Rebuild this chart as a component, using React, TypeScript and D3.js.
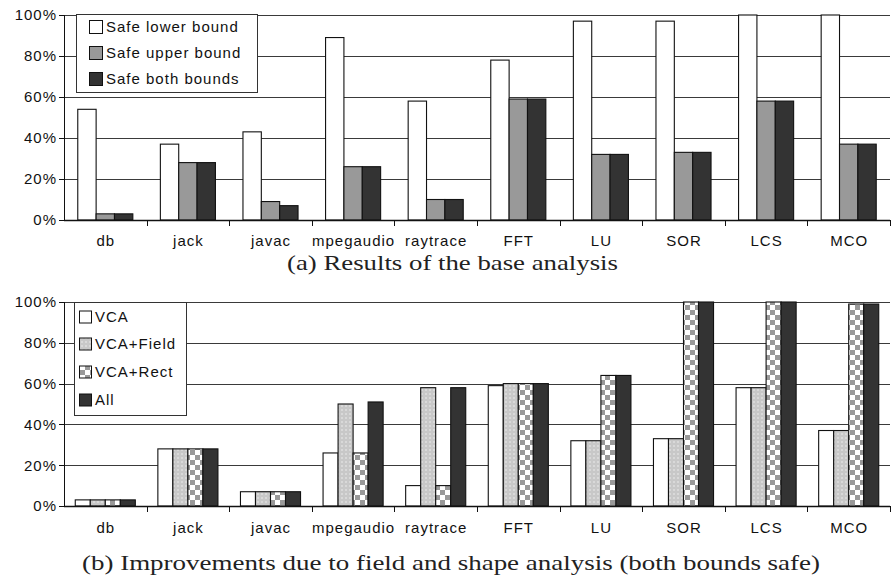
import React from "react";
import * as d3 from "d3";

const categories = ["db", "jack", "javac", "mpegaudio", "raytrace", "FFT", "LU", "SOR", "LCS", "MCO"];
const yTicks = [0, 20, 40, 60, 80, 100];

const topSeriesNames = ["Safe lower bound", "Safe upper bound", "Safe both bounds"];
const safeLower = [54, 37, 43, 89, 58, 78, 97, 97, 100, 100];
const safeUpper = [3, 28, 9, 26, 10, 59, 32, 33, 58, 37];
const safeBoth = [3, 28, 7, 26, 10, 59, 32, 33, 58, 37];

const botSeriesNames = ["VCA", "VCA+Field", "VCA+Rect", "All"];
const vca = [3, 28, 7, 26, 10, 59, 32, 33, 58, 37];
const vcaField = [3, 28, 7, 50, 58, 60, 32, 33, 58, 37];
const vcaRect = [3, 28, 7, 26, 10, 60, 64, 100, 100, 99];
const allOpt = [3, 28, 7, 51, 58, 60, 64, 100, 100, 99];

const captionA = "(a) Results of the base analysis";
const captionB = "(b) Improvements due to field and shape analysis (both bounds safe)";

const SANS = "'Liberation Sans', Arial, Helvetica, sans-serif";
const SERIF = "'Liberation Serif', 'Times New Roman', serif";

type PanelProps = {
  y0: number;
  y1: number;
  names: string[];
  values: number[][];
  fills: string[];
  legend: { x: number; y: number; w: number; h: number; sw: number; sx: number; tx: number; rows: number[] };
  labelY: number;
  caption: string;
  captionY: number;
  captionX0: number;
  captionX1: number;
};

const X0 = 64;
const X1 = 890;

function Panel(p: PanelProps) {
  const x = d3.scaleBand<string>().domain(categories).range([X0, X1]).paddingInner(0).paddingOuter(0);
  const y = d3.scaleLinear().domain([0, 100]).range([p.y0, p.y1]);
  const bw = x.bandwidth();
  const n = p.names.length;
  const unit = bw / (n + 1.5);
  const inner = d3
    .scaleBand<number>()
    .domain(d3.range(n))
    .range([unit * 0.75, bw - unit * 0.75])
    .padding(0);
  const crisp = (v: number) => Math.round(v) + 0.5;
  return (
    <g>
      {yTicks.filter((t) => t > 0).map((t) => (
        <line key={"g" + t} x1={X0} x2={X1} y1={crisp(y(t))} y2={crisp(y(t))} stroke="#3a3a3a" strokeWidth={1} />
      ))}
      {categories.map((c, ci) => (
        <g key={c}>
          {p.values.map((vals, si) => {
            const bx = (x(c) as number) + (inner(si) as number);
            const top = y(vals[ci]);
            return (
              <rect
                key={si}
                x={bx}
                y={top}
                width={inner.bandwidth()}
                height={y(0) - top}
                fill={p.fills[si]}
                stroke="#111"
                strokeWidth={1.1}
              />
            );
          })}
        </g>
      ))}
      <line x1={X0 + 0.5} x2={X0 + 0.5} y1={p.y1} y2={p.y0} stroke="#111" />
      {yTicks.map((t) => (
        <g key={"t" + t}>
          <line x1={X0 - 5} x2={X0} y1={crisp(y(t))} y2={crisp(y(t))} stroke="#111" />
          <text
            x={57}
            y={y(t)}
            dy="0.36em"
            textAnchor="end"
            fontFamily={SANS}
            fontSize={15}
            letterSpacing={1}
            fill="#111"
          >
            {t + "%"}
          </text>
        </g>
      ))}
      <line x1={X0} x2={X1} y1={crisp(y(0))} y2={crisp(y(0))} stroke="#111" strokeWidth={1.3} />
      {categories.map((c) => (
        <line
          key={"xt" + c}
          x1={crisp((x(c) as number) + bw)}
          x2={crisp((x(c) as number) + bw)}
          y1={y(0)}
          y2={y(0) + 6}
          stroke="#111"
        />
      ))}
      {categories.map((c) => (
        <text
          key={"xl" + c}
          x={(x(c) as number) + bw / 2 + 0.5}
          y={p.labelY}
          textAnchor="middle"
          fontFamily={SANS}
          fontSize={15}
          letterSpacing={1}
          fill="#111"
        >
          {c}
        </text>
      ))}
      <rect x={p.legend.x + 0.5} y={p.legend.y + 0.5} width={p.legend.w} height={p.legend.h} fill="#fff" stroke="#333" />
      {p.names.map((nm, i) => (
        <g key={nm}>
          <rect
            x={p.legend.sx + 0.5}
            y={p.legend.rows[i] - p.legend.sw / 2}
            width={p.legend.sw}
            height={p.legend.sw}
            fill={p.fills[i]}
            stroke="#111"
          />
          <text
            x={p.legend.tx}
            y={p.legend.rows[i]}
            dy="0.36em"
            fontFamily={SANS}
            fontSize={15}
            letterSpacing={1}
            fill="#111"
          >
            {nm}
          </text>
        </g>
      ))}
      <text
        x={p.captionX0}
        y={p.captionY}
        fontFamily={SERIF}
        fontSize={21}
        textLength={p.captionX1 - p.captionX0}
        lengthAdjust="spacingAndGlyphs"
        fill="#222"
      >
        {p.caption}
      </text>
    </g>
  );
}

export default function App() {
  return (
    <svg
      width={891}
      height={577}
      style={{ position: "absolute", left: 0, top: 0, background: "#fff" }}
    >
      <defs>
        <pattern id="dots" width={4} height={4} patternUnits="userSpaceOnUse">
          <rect width={4} height={4} fill="#c8c8c8" />
          <circle cx={2} cy={2} r={0.8} fill="#efefef" />
        </pattern>
        <pattern id="checker" width={10} height={10} patternUnits="userSpaceOnUse">
          <rect width={10} height={10} fill="#fff" />
          <rect x={0} y={0} width={5} height={5} fill="#999" />
          <rect x={5} y={5} width={5} height={5} fill="#999" />
        </pattern>
      </defs>
      <Panel
        y0={220}
        y1={15}
        names={topSeriesNames}
        values={[safeLower, safeUpper, safeBoth]}
        fills={["#fff", "#999", "#333"]}
        legend={{ x: 76, y: 14, w: 181, h: 78, sw: 13, sx: 89, tx: 106, rows: [27, 53, 79] }}
        labelY={246}
        caption={captionA}
        captionY={270}
        captionX0={287}
        captionX1={618}
      />
      <Panel
        y0={506}
        y1={302}
        names={botSeriesNames}
        values={[vca, vcaField, vcaRect, allOpt]}
        fills={["#fff", "url(#dots)", "url(#checker)", "#333"]}
        legend={{ x: 74, y: 302, w: 112, h: 113, sw: 12, sx: 79, tx: 95, rows: [317, 344, 372, 400] }}
        labelY={533}
        caption={captionB}
        captionY={570}
        captionX0={82}
        captionX1={820}
      />
    </svg>
  );
}
